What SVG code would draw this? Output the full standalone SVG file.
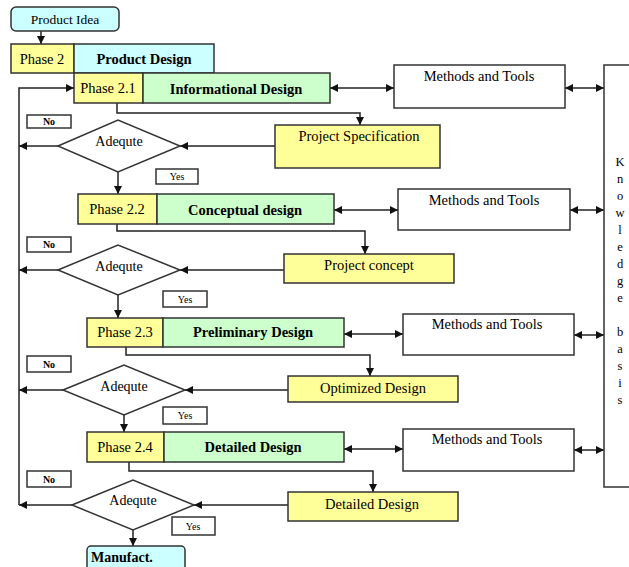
<svg xmlns="http://www.w3.org/2000/svg" width="629" height="567" viewBox="0 0 629 567">
  <style>
    text { font-family: "Liberation Serif", "Times New Roman", serif; fill: #000; }
    .box { stroke: #333; stroke-width: 1.5; }
    .yel { fill: #ffff99; }
    .grn { fill: #ccffcc; }
    .cyn { fill: #ccffff; }
    .wht { fill: #fff; }
    .lbl { font-size: 14.5px; text-anchor: middle; }
    .bold { font-size: 14.5px; font-weight: bold; text-anchor: middle; }
    .dec { font-size: 14px; text-anchor: middle; }
    .tag { font-size: 10px; text-anchor: middle; }
    .kb { font-size: 12.5px; text-anchor: middle; }
    .conn { fill: none; stroke: #222; stroke-width: 1.5; }
  </style>
  <defs>
    <marker id="ah" viewBox="0 0 10 10" refX="10" refY="5" markerWidth="8" markerHeight="8" markerUnits="userSpaceOnUse" orient="auto-start-reverse">
      <path d="M0,0 L10,5 L0,10 z" fill="#111"/>
    </marker>
  </defs>

  <rect width="629" height="567" fill="#fff"/>

  <!-- connectors -->
  <g id="connectors">
    <path class="conn" d="M41,31 V44" marker-end="url(#ah)"/>
    <!-- loop-back line on the left -->
    <path class="conn" d="M19,505 V88 H74" marker-end="url(#ah)"/>

    <!-- phase 2.1 -->
    <path class="conn" d="M117,103 V113 H360 V125" marker-end="url(#ah)"/>
    <path class="conn" d="M330,88 H394" marker-start="url(#ah)" marker-end="url(#ah)"/>
    <path class="conn" d="M565,88 H604" marker-start="url(#ah)" marker-end="url(#ah)"/>
    <path class="conn" d="M275,146 H180" marker-end="url(#ah)"/>
    <path class="conn" d="M58,146 H19" marker-end="url(#ah)"/>
    <path class="conn" d="M118,172 V194" marker-end="url(#ah)"/>

    <!-- phase 2.2 -->
    <path class="conn" d="M117,224 V231 H365 V254" marker-end="url(#ah)"/>
    <path class="conn" d="M334,210 H398" marker-start="url(#ah)" marker-end="url(#ah)"/>
    <path class="conn" d="M570,210 H604" marker-start="url(#ah)" marker-end="url(#ah)"/>
    <path class="conn" d="M284,270 H180" marker-end="url(#ah)"/>
    <path class="conn" d="M58,270 H19" marker-end="url(#ah)"/>
    <path class="conn" d="M118,295 V318" marker-end="url(#ah)"/>

    <!-- phase 2.3 -->
    <path class="conn" d="M126,347 V355 H370 V376" marker-end="url(#ah)"/>
    <path class="conn" d="M344,334 H403" marker-start="url(#ah)" marker-end="url(#ah)"/>
    <path class="conn" d="M574,335 H604" marker-start="url(#ah)" marker-end="url(#ah)"/>
    <path class="conn" d="M288,390 H185" marker-end="url(#ah)"/>
    <path class="conn" d="M63,390 H19" marker-end="url(#ah)"/>
    <path class="conn" d="M124,415 V432" marker-end="url(#ah)"/>

    <!-- phase 2.4 -->
    <path class="conn" d="M129,462 V471 H373 V492" marker-end="url(#ah)"/>
    <path class="conn" d="M344,449 H403" marker-start="url(#ah)" marker-end="url(#ah)"/>
    <path class="conn" d="M574,450 H604" marker-start="url(#ah)" marker-end="url(#ah)"/>
    <path class="conn" d="M288,505 H194" marker-end="url(#ah)"/>
    <path class="conn" d="M72,505 H19" marker-end="url(#ah)"/>
    <path class="conn" d="M133,530 V546" marker-end="url(#ah)"/>
  </g>

  <!-- start and phase header -->
  <g id="product-idea">
    <rect class="box cyn" x="11" y="7" width="108" height="24" rx="5"/>
    <text x="65" y="24" font-size="13.5" text-anchor="middle">Product Idea</text>
  </g>
  <g id="phase-2">
    <rect class="box yel" x="11" y="44" width="63" height="29"/>
    <rect class="box cyn" x="74" y="44" width="140" height="29"/>
    <text class="lbl" x="42" y="64">Phase 2</text>
    <text class="bold" x="144" y="64">Product Design</text>
  </g>

  <!-- phase 2.1 -->
  <g id="phase-2-1">
    <rect class="box yel" x="74" y="73" width="69" height="30"/>
    <rect class="box grn" x="143" y="73" width="187" height="30"/>
    <text class="lbl" x="108" y="93">Phase 2.1</text>
    <text class="bold" x="236" y="94">Informational Design</text>
  </g>
  <g id="methods-1">
    <rect class="box wht" x="394" y="65" width="171" height="43"/>
    <text class="lbl" x="479" y="81">Methods and Tools</text>
  </g>
  <g id="project-specification">
    <rect class="box yel" x="275" y="125" width="165" height="43"/>
    <text class="lbl" x="359" y="141">Project Specification</text>
  </g>
  <g id="check-1">
    <polygon class="box wht" points="58,146 118,120 180,146 118,172"/>
    <text class="dec" x="119" y="146">Adequte</text>
    <rect class="box wht" x="27" y="115" width="44" height="13" stroke-width="1.2"/>
    <text class="tag" x="49" y="125" font-weight="bold">No</text>
    <rect class="box wht" x="156" y="169" width="42" height="15" stroke-width="1.2"/>
    <text class="tag" x="177" y="180">Yes</text>
  </g>

  <!-- phase 2.2 -->
  <g id="phase-2-2">
    <rect class="box yel" x="78" y="194" width="79" height="30"/>
    <rect class="box grn" x="157" y="194" width="177" height="30"/>
    <text class="lbl" x="117" y="214">Phase 2.2</text>
    <text class="bold" x="245" y="215">Conceptual design</text>
  </g>
  <g id="methods-2">
    <rect class="box wht" x="398" y="189" width="172" height="41"/>
    <text class="lbl" x="484" y="205">Methods and Tools</text>
  </g>
  <g id="project-concept">
    <rect class="box yel" x="284" y="254" width="170" height="29"/>
    <text class="lbl" x="369" y="270">Project concept</text>
  </g>
  <g id="check-2">
    <polygon class="box wht" points="58,270 118,245 180,270 118,295"/>
    <text class="dec" x="119" y="271">Adequte</text>
    <rect class="box wht" x="27" y="237" width="44" height="15" stroke-width="1.2"/>
    <text class="tag" x="49" y="248" font-weight="bold">No</text>
    <rect class="box wht" x="163" y="291" width="44" height="16" stroke-width="1.2"/>
    <text class="tag" x="185" y="303">Yes</text>
  </g>

  <!-- phase 2.3 -->
  <g id="phase-2-3">
    <rect class="box yel" x="87" y="318" width="76" height="29"/>
    <rect class="box grn" x="163" y="318" width="181" height="29"/>
    <text class="lbl" x="125" y="337">Phase 2.3</text>
    <text class="bold" x="253" y="337">Preliminary Design</text>
  </g>
  <g id="methods-3">
    <rect class="box wht" x="403" y="314" width="171" height="41"/>
    <text class="lbl" x="487" y="329">Methods and Tools</text>
  </g>
  <g id="optimized-design">
    <rect class="box yel" x="288" y="376" width="170" height="26"/>
    <text class="lbl" x="373" y="393">Optimized Design</text>
  </g>
  <g id="check-3">
    <polygon class="box wht" points="63,390 124,365 185,390 124,415"/>
    <text class="dec" x="124" y="391">Adequte</text>
    <rect class="box wht" x="27" y="356" width="44" height="16" stroke-width="1.2"/>
    <text class="tag" x="49" y="368" font-weight="bold">No</text>
    <rect class="box wht" x="163" y="407" width="44" height="17" stroke-width="1.2"/>
    <text class="tag" x="185" y="419">Yes</text>
  </g>

  <!-- phase 2.4 -->
  <g id="phase-2-4">
    <rect class="box yel" x="87" y="432" width="77" height="30"/>
    <rect class="box grn" x="164" y="432" width="180" height="30"/>
    <text class="lbl" x="125" y="452">Phase 2.4</text>
    <text class="bold" x="253" y="452">Detailed Design</text>
  </g>
  <g id="methods-4">
    <rect class="box wht" x="403" y="429" width="171" height="42"/>
    <text class="lbl" x="487" y="444">Methods and Tools</text>
  </g>
  <g id="detailed-design">
    <rect class="box yel" x="288" y="492" width="170" height="29"/>
    <text class="lbl" x="372" y="509">Detailed Design</text>
  </g>
  <g id="check-4">
    <polygon class="box wht" points="72,505 133,480 194,505 133,530"/>
    <text class="dec" x="133" y="505">Adequte</text>
    <rect class="box wht" x="27" y="471" width="44" height="16" stroke-width="1.2"/>
    <text class="tag" x="49" y="483" font-weight="bold">No</text>
    <rect class="box wht" x="172" y="517" width="43" height="18" stroke-width="1.2"/>
    <text class="tag" x="193" y="530">Yes</text>
  </g>

  <!-- end -->
  <g id="manufact">
    <rect class="box cyn" x="87" y="546" width="98" height="30" rx="4"/>
    <text x="91" y="562" font-size="14" font-weight="bold">Manufact.</text>
  </g>

  <!-- knowledge basis column -->
  <g id="knowledge-basis">
    <rect class="box wht" x="604" y="65" width="40" height="422"/>
    <text class="kb" x="620" y="166">K</text>
    <text class="kb" x="620" y="183">n</text>
    <text class="kb" x="620" y="200">o</text>
    <text class="kb" x="620" y="217">w</text>
    <text class="kb" x="620" y="234">l</text>
    <text class="kb" x="620" y="251">e</text>
    <text class="kb" x="620" y="268">d</text>
    <text class="kb" x="620" y="285">g</text>
    <text class="kb" x="620" y="302">e</text>
    <text class="kb" x="620" y="336">b</text>
    <text class="kb" x="620" y="353">a</text>
    <text class="kb" x="620" y="370">s</text>
    <text class="kb" x="620" y="387">i</text>
    <text class="kb" x="620" y="404">s</text>
  </g>
</svg>
